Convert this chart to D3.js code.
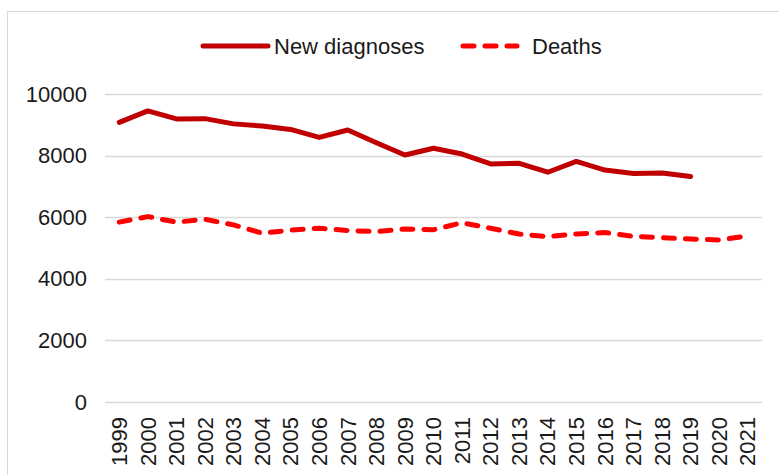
<!DOCTYPE html>
<html>
<head>
<meta charset="utf-8">
<script src="https://cdn.jsdelivr.net/npm/d3@7"></script>
<style>
  body { margin: 0; background: #fff; }
  text { font-family: "Liberation Sans", Arial, sans-serif; fill: #1a1a1a; }
</style>
</head>
<body>
<div id="chart-area"></div>
<script>

// Data
let years = ["1999", "2000", "2001", "2002", "2003", "2004", "2005", "2006", "2007", "2008", "2009", "2010",
	"2011", "2012", "2013", "2014", "2015", "2016", "2017", "2018", "2019", "2020", "2021"];
let newDiagnoses = [9080, 9450, 9190, 9200, 9030, 8960, 8850, 8590, 8830, 8420, 8020, 8240,
	8050, 7730, 7750, 7460, 7810, 7530, 7420, 7435, 7320, null, null];
let deaths = [5840, 6020, 5840, 5930, 5750, 5480, 5580, 5640, 5570, 5530, 5615, 5595,
	5820, 5640, 5455, 5370, 5455, 5500, 5380, 5335, 5290, 5260, 5390];
let yTicks = [0, 2000, 4000, 6000, 8000, 10000];

let series = [
	{name: "New diagnoses", values: newDiagnoses, color: "#c00000", dash: null},
	{name: "Deaths", values: deaths, color: "#ff0000", dash: "11,11"}
];

// SVG Size
let W = 779, H = 475;
let margin = {top: 94, right: 17, bottom: 73, left: 105};
let width = W - margin.left - margin.right;
let height = H - margin.top - margin.bottom;

let root = d3.select("#chart-area")
	.append("svg")
	.attr("width", W)
	.attr("height", H);

// chart border
root.append("rect")
	.attr("x", 7.5)
	.attr("y", 11.5)
	.attr("width", W + 10)
	.attr("height", H + 10)
	.attr("fill", "none")
	.attr("stroke", "#d9d9d9");

let svg = root.append("g")
	.attr("transform", "translate(" + margin.left + "," + margin.top + ")");

/** Scales */
let x = d3.scaleBand()
	.domain(years)
	.range([0, width]);

let y = d3.scaleLinear()
	.domain([0, 10000])
	.range([height, 0]);

/** Gridlines */
svg.selectAll(".grid")
	.data(yTicks)
	.enter()
	.append("line")
	.attr("class", "grid")
	.attr("x1", 0)
	.attr("x2", width)
	.attr("y1", function(d) { return Math.round(y(d)) + 0.5; })
	.attr("y2", function(d) { return Math.round(y(d)) + 0.5; })
	.attr("stroke", "#d9d9d9")
	.attr("stroke-width", 1.5);

/** Axes */
let yAxis = d3.axisLeft(y)
	.tickValues(yTicks)
	.tickSize(0)
	.tickPadding(18)
	.tickFormat(d3.format("d"));

svg.append("g")
	.attr("class", "axis yAxis")
	.call(yAxis)
	.call(function(g) { g.select(".domain").remove(); })
	.selectAll("text")
	.attr("font-size", 22);

let xAxis = d3.axisBottom(x)
	.tickSize(0)
	.tickPadding(0);

svg.append("g")
	.attr("class", "axis xAxis")
	.attr("transform", "translate(0," + height + ")")
	.call(xAxis)
	.call(function(g) { g.select(".domain").remove(); })
	.selectAll("text")
	.attr("font-size", 22)
	.attr("text-anchor", "end")
	.attr("dy", "0.35em")
	.attr("transform", "translate(0,15) rotate(-90)")
	.attr("x", 0)
	.attr("y", 0);

/** Lines */
let line = d3.line()
	.defined(function(d) { return d != null; })
	.x(function(d, i) { return x(years[i]) + x.bandwidth() / 2; })
	.y(function(d) { return y(d); });

svg.selectAll(".series")
	.data(series)
	.enter()
	.append("path")
	.attr("class", "series")
	.attr("d", function(s) { return line(s.values); })
	.attr("fill", "none")
	.attr("stroke", function(s) { return s.color; })
	.attr("stroke-width", 5)
	.attr("stroke-linecap", "round")
	.attr("stroke-linejoin", "round")
	.attr("stroke-dasharray", function(s) { return s.dash; });

/** Legend */
let legendPos = [{x1: 203, x2: 268, tx: 274}, {x1: 463, x2: 517, tx: 532}];
let legend = root.selectAll(".legend")
	.data(series)
	.enter()
	.append("g")
	.attr("class", "legend");

legend.append("line")
	.attr("x1", function(s, i) { return legendPos[i].x1; })
	.attr("x2", function(s, i) { return legendPos[i].x2; })
	.attr("y1", 46)
	.attr("y2", 46)
	.attr("stroke", function(s) { return s.color; })
	.attr("stroke-width", 5)
	.attr("stroke-linecap", "round")
	.attr("stroke-dasharray", function(s) { return s.dash; });

legend.append("text")
	.attr("x", function(s, i) { return legendPos[i].tx; })
	.attr("y", 46)
	.attr("dy", "0.35em")
	.attr("font-size", 22)
	.text(function(s) { return s.name; });

</script>
</body>
</html>
